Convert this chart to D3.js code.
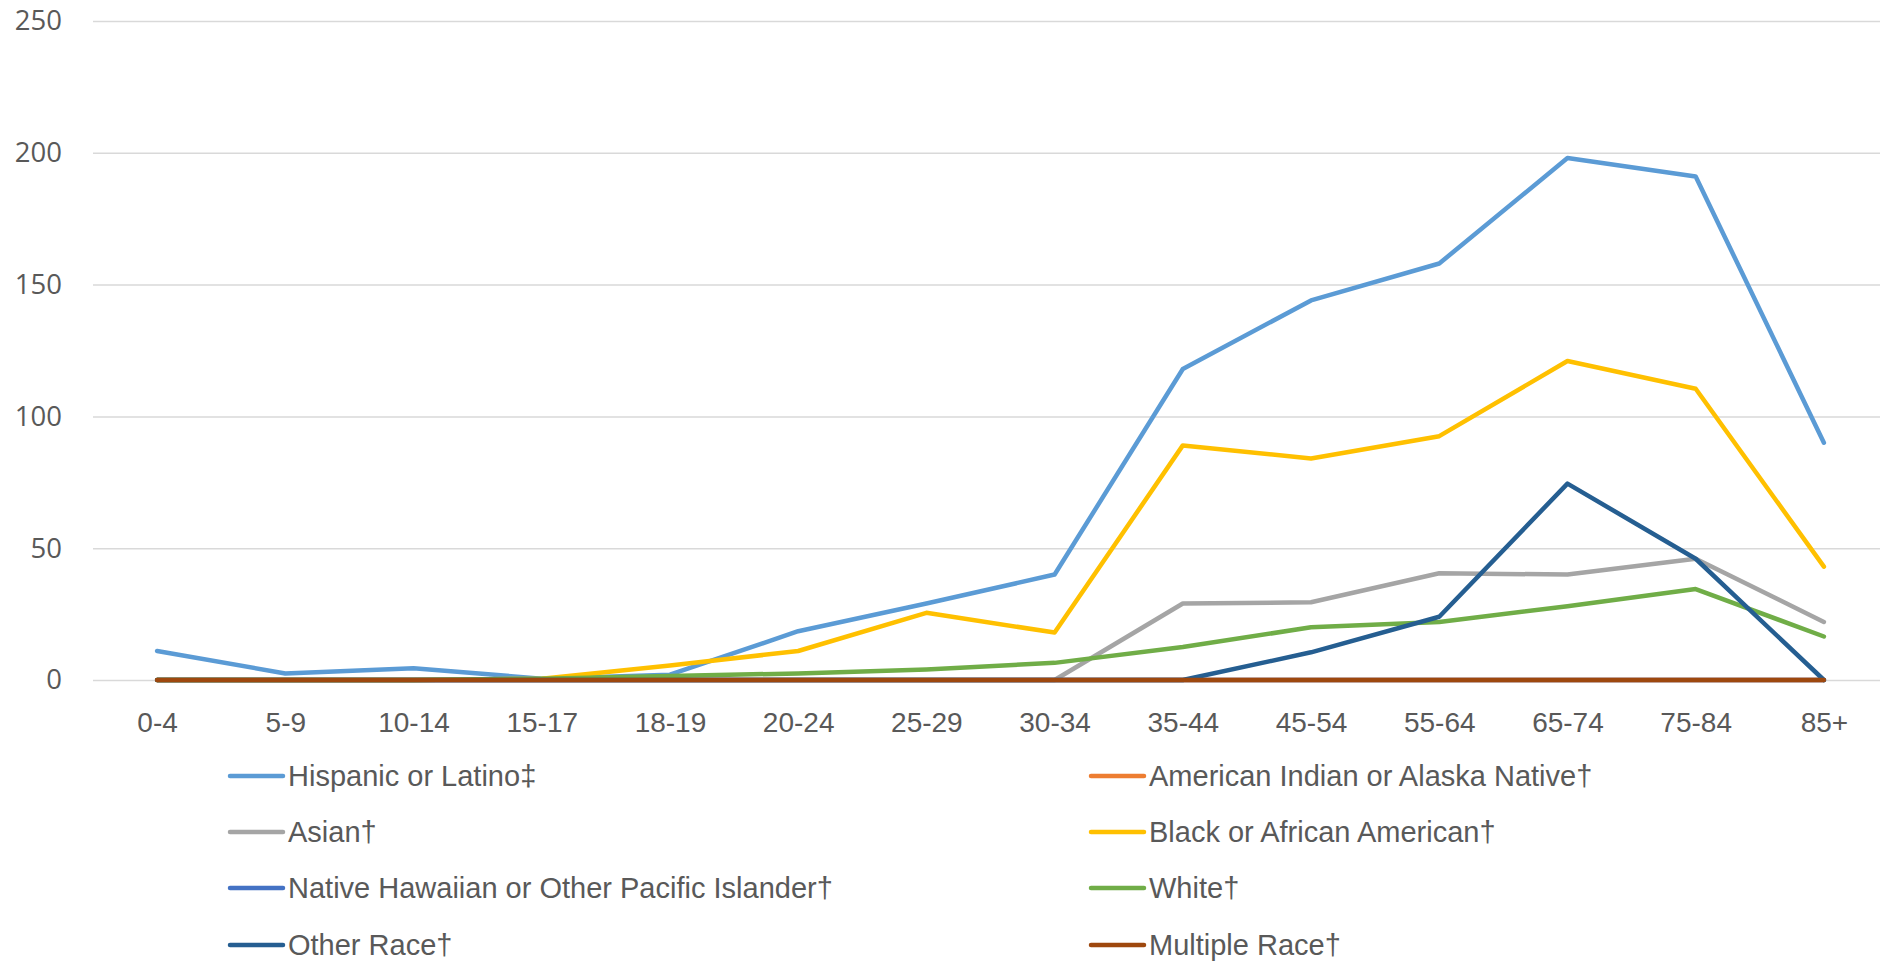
<!DOCTYPE html>
<html>
<head>
<meta charset="utf-8">
<script src="https://cdn.jsdelivr.net/npm/d3@7"></script>
<style>
  html, body { margin: 0; padding: 0; background: #fff; }
  svg { display: block; }
</style>
</head>
<body>
<svg id="chart" width="1880" height="961"></svg>
<script>
// Age groups along the x axis
const ageGroups = ["0-4", "5-9", "10-14", "15-17", "18-19", "20-24", "25-29", "30-34",
                   "35-44", "45-54", "55-64", "65-74", "75-84", "85+"];

// Rates per series, one value per age group
const hispanic      = [11, 2.5, 4.5, 0.5, 2, 18.5, 29, 40, 118, 144, 158, 198, 191, 90];
const amIndian      = [0, 0, 0, 0, 0, 0, 0, 0, 0, 0, 0, 0, 0, 0];
const asian         = [0, 0, 0, 0, 0, 0, 0, 0, 29, 29.5, 40.5, 40, 46, 22];
const black         = [0, 0, 0, 0.5, 5.5, 11, 25.5, 18, 89, 84, 92.5, 121, 110.5, 43];
const nativeHawaiian= [0, 0, 0, 0, 0, 0, 0, 0, 0, 0, 0, 0, 0, 0];
const white         = [0, 0, 0, 0.5, 1.5, 2.5, 4, 6.5, 12.5, 20, 22, 28, 34.5, 16.5];
const otherRace     = [0, 0, 0, 0, 0, 0, 0, 0, 0, 10.5, 24, 74.5, 46, 0];
const multipleRace  = [0, 0, 0, 0, 0, 0, 0, 0, 0, 0, 0, 0, 0, 0];

const seriesNames = ["Hispanic or Latino‡", "American Indian or Alaska Native†", "Asian†",
                     "Black or African American†", "Native Hawaiian or Other Pacific Islander†",
                     "White†", "Other Race†", "Multiple Race†"];
const seriesValues = [hispanic, amIndian, asian, black, nativeHawaiian, white, otherRace, multipleRace];
const seriesColors = ["#5B9BD5", "#ED7D31", "#A5A5A5", "#FFC000", "#4472C4", "#70AD47", "#255E91", "#9E480E"];

const yTicks = [0, 50, 100, 150, 200, 250];

const svg = d3.select("#chart");

const plotLeft = 93, plotRight = 1888, plotTop = 21, plotBottom = 680;
const textFont = "'Liberation Sans', Arial, sans-serif";

const x = d3.scalePoint()
  .domain(ageGroups)
  .range([plotLeft, plotRight])
  .padding(0.5);

const y = d3.scaleLinear()
  .domain([0, 250])
  .range([plotBottom, plotTop]);

// Horizontal gridlines with value labels
const yAxis = d3.axisLeft(y)
  .tickValues(yTicks)
  .tickSize(-(plotRight - plotLeft))
  .tickPadding(31);

const gy = svg.append("g")
  .attr("transform", `translate(${plotLeft},0)`)
  .call(yAxis);
gy.select(".domain").remove();
gy.selectAll(".tick line").attr("stroke", "#d9d9d9").attr("stroke-width", 1.5);
gy.selectAll(".tick text")
  .attr("fill", "#595959")
  .style("font-family", "'Open Sans', sans-serif")
  .style("font-size", "27.5px");

// Category labels
const xAxis = d3.axisBottom(x).tickSize(0).tickPadding(32);
const gx = svg.append("g")
  .attr("transform", `translate(0,${plotBottom})`)
  .call(xAxis);
gx.select(".domain").remove();
gx.selectAll(".tick text")
  .attr("fill", "#595959")
  .style("font-family", textFont)
  .style("font-size", "28px");

// Series lines
const line = d3.line()
  .x((d, i) => x(ageGroups[i]))
  .y(d => y(d));

svg.append("g")
  .selectAll("path")
  .data(seriesValues)
  .join("path")
  .attr("d", d => line(d))
  .attr("fill", "none")
  .attr("stroke", (d, i) => seriesColors[i])
  .attr("stroke-width", 4.5)
  .attr("stroke-linejoin", "round")
  .attr("stroke-linecap", "round");

// Legend in two columns
const legendCols = [230, 1091];
const legendRows = [776, 832, 888, 945];
const legend = svg.append("g")
  .selectAll("g")
  .data(seriesNames)
  .join("g")
  .attr("transform", (d, i) => `translate(${legendCols[i % 2]},${legendRows[Math.floor(i / 2)]})`);

legend.append("line")
  .attr("x1", 0).attr("x2", 53)
  .attr("y1", 0).attr("y2", 0)
  .attr("stroke", (d, i) => seriesColors[i])
  .attr("stroke-width", 4.5)
  .attr("stroke-linecap", "round");

legend.append("text")
  .attr("x", 58)
  .attr("y", 0)
  .attr("dy", "0.36em")
  .attr("fill", "#595959")
  .style("font-family", textFont)
  .style("font-size", "29px")
  .text(d => d);
</script>
</body>
</html>
